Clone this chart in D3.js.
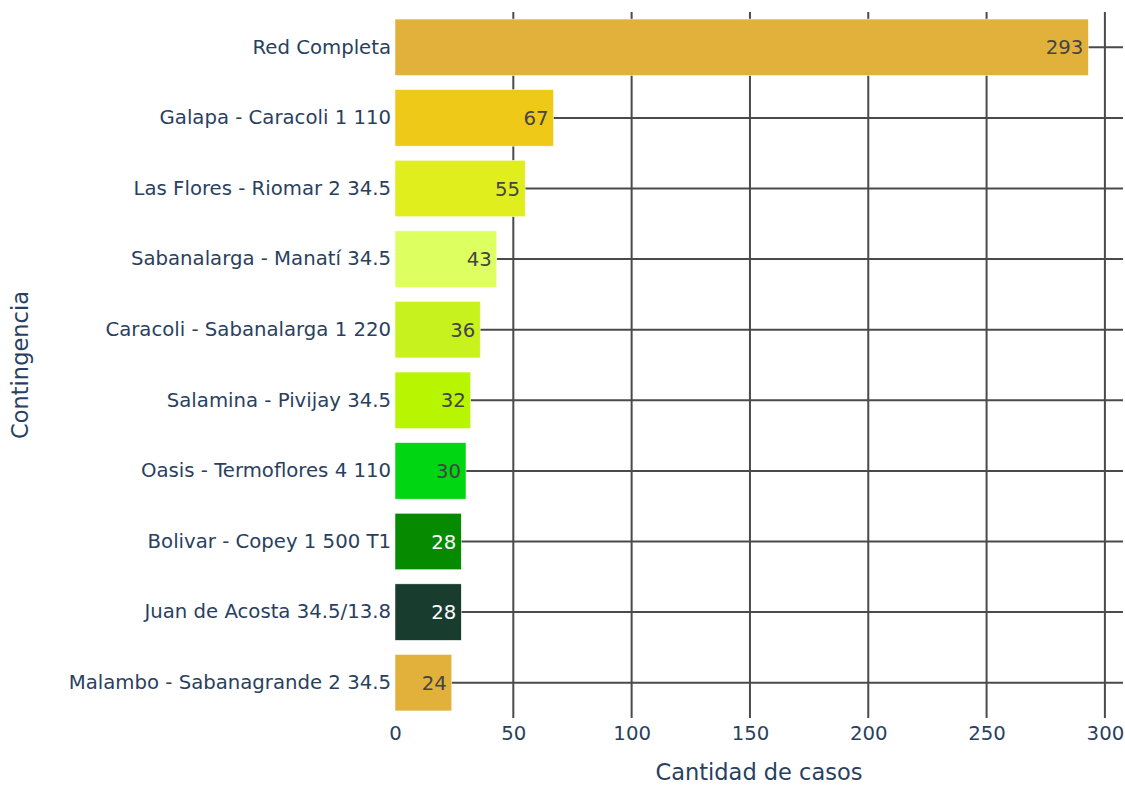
<!DOCTYPE html>
<html>
<head>
<meta charset="utf-8">
<script src="https://cdn.jsdelivr.net/npm/d3@7"></script>
<style>
  body { margin: 0; background: #fff; }
  text { font-family: Verdana, "DejaVu Sans", sans-serif; }
</style>
</head>
<body>
<div id="chart"></div>
<script>
// Data
const contingencias = [
    "Red Completa",
    "Galapa - Caracoli 1 110",
    "Las Flores - Riomar 2 34.5",
    "Sabanalarga - Manatí 34.5",
    "Caracoli - Sabanalarga 1 220",
    "Salamina - Pivijay 34.5",
    "Oasis - Termoflores 4 110",
    "Bolivar - Copey 1 500 T1",
    "Juan de Acosta 34.5/13.8",
    "Malambo - Sabanagrande 2 34.5"
];
const casos = [293, 67, 55, 43, 36, 32, 30, 28, 28, 24];
const barColors = ["#e2b13c", "#eec918", "#dfee1c", "#ddff60", "#c8f21e",
                   "#b7f500", "#00d612", "#068b00", "#183d2f", "#e2b13c"];
const xTicks = [0, 50, 100, 150, 200, 250, 300];

const width = 1125, height = 786;
const margin = {top: 12, right: 2, bottom: 68, left: 395};
const tickFont = "19.7px", titleFont = "22.5px";

const data = contingencias.map((c, i) => ({name: c, value: casos[i], color: barColors[i]}));

const svg = d3.select("#chart")
    .append("svg")
    .attr("width", width)
    .attr("height", height);

const x = d3.scaleLinear()
    .domain([0, d3.max(casos) * 1.05])
    .range([margin.left, width - margin.right]);

const y = d3.scaleBand()
    .domain(contingencias)
    .range([margin.top, height - margin.bottom])
    .paddingInner(0.2)
    .paddingOuter(0.1);

const gridColor = "#4a4a4a";

// vertical grid
svg.append("g")
    .selectAll("line")
    .data(xTicks.filter(d => d > 0))
    .join("line")
    .attr("x1", d => x(d)).attr("x2", d => x(d))
    .attr("y1", margin.top).attr("y2", height - margin.bottom)
    .attr("stroke", gridColor)
    .attr("stroke-width", 2);

// horizontal grid at category centres
svg.append("g")
    .selectAll("line")
    .data(contingencias)
    .join("line")
    .attr("x1", margin.left).attr("x2", width - margin.right)
    .attr("y1", d => y(d) + y.bandwidth() / 2)
    .attr("y2", d => y(d) + y.bandwidth() / 2)
    .attr("stroke", gridColor)
    .attr("stroke-width", 2);

// bars
svg.append("g")
    .selectAll("rect")
    .data(data)
    .join("rect")
    .attr("x", x(0))
    .attr("y", d => y(d.name))
    .attr("width", d => x(d.value) - x(0))
    .attr("height", y.bandwidth())
    .attr("fill", d => d.color)
    .attr("stroke", "#fff")
    .attr("stroke-width", 0.5);

// value labels inside bar end
const darkBars = ["#068b00", "#183d2f"];
svg.append("g")
    .selectAll("text")
    .data(data)
    .join("text")
    .attr("x", d => x(d.value) - 5)
    .attr("y", d => y(d.name) + y.bandwidth() / 2)
    .attr("dy", "0.36em")
    .attr("text-anchor", "end")
    .style("font-size", tickFont)
    .attr("fill", d => darkBars.includes(d.color) ? "#fff" : "#444")
    .text(d => d.value);

// x axis
const xAxis = svg.append("g")
    .attr("transform", `translate(0,${height - margin.bottom})`)
    .call(d3.axisBottom(x).tickValues(xTicks).tickSize(0).tickPadding(8));
xAxis.select(".domain").remove();
xAxis.selectAll("text")
    .style("font-size", tickFont)
    .attr("fill", "#2a3f5f");

// y axis
const yAxis = svg.append("g")
    .attr("transform", `translate(${margin.left},0)`)
    .call(d3.axisLeft(y).tickSize(0).tickPadding(4));
yAxis.select(".domain").remove();
yAxis.selectAll("text")
    .style("font-size", tickFont)
    .attr("fill", "#2a3f5f");

// axis titles
svg.append("text")
    .attr("x", (margin.left + width - margin.right) / 2)
    .attr("y", 780)
    .attr("text-anchor", "middle")
    .style("font-size", titleFont)
    .attr("fill", "#2a3f5f")
    .text("Cantidad de casos");

svg.append("text")
    .attr("transform", `translate(28,${(margin.top + height - margin.bottom) / 2}) rotate(-90)`)
    .attr("text-anchor", "middle")
    .style("font-size", titleFont)
    .attr("fill", "#2a3f5f")
    .text("Contingencia");
</script>
</body>
</html>
